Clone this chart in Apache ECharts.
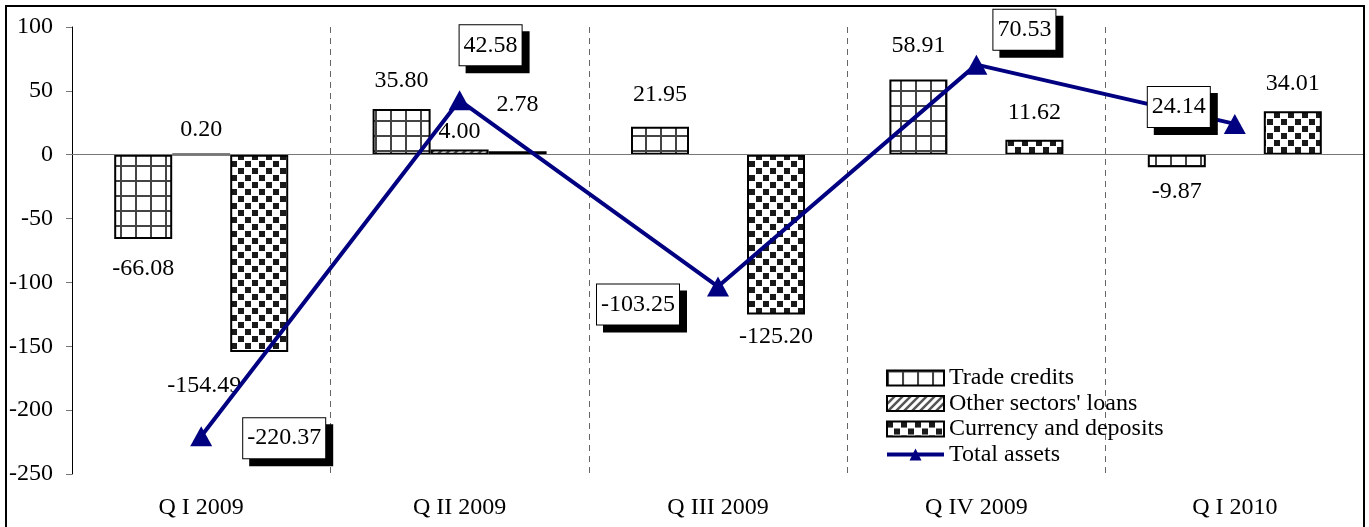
<!DOCTYPE html>
<html>
<head>
<meta charset="utf-8">
<script src="https://cdn.jsdelivr.net/npm/echarts@6/dist/echarts.min.js"></script>
<style>
  html, body { margin: 0; padding: 0; background: #fff; }
  #chart { width: 1369px; height: 527px; }
</style>
</head>
<body>
<div id="chart"></div>
<script>
// data
var categories = ['Q I 2009', 'Q II 2009', 'Q III 2009', 'Q IV 2009', 'Q I 2010']
var tradeCredits = [-66.08, 35.80, 21.95, 58.91, -9.87]
var otherLoans = [0.20, 4.00, 0, 0, 0]
var currencyDeposits = [-154.49, 2.78, -125.20, 11.62, 34.01]
var totalAssets = [-220.37, 42.58, -103.25, 70.53, 24.14]

// label placement (distance from bar end, x shift), kept apart from the values
var tradeLabelPos = [[18, 0], [16, 0], [20, 0], [22, 0], [12, 0]]
var loansLabelPos = [[12, 0], [6, 0], null, null, null]
var currencyLabelPos = [[22, -55], [34, 0], [10, 0], [15, 0], [16, 0]]
var totalLabelOffset = [[83, 2], [31, -55], [-80, 18], [48, -35], [-56, -17]]

var FONT = '"Liberation Serif", "Times New Roman", serif'

function makePattern(kind) {
  var c = document.createElement('canvas')
  var ctx
  if (kind === 'grid') {
    c.width = 15; c.height = 15
    ctx = c.getContext('2d')
    ctx.fillStyle = '#fff'; ctx.fillRect(0, 0, 15, 15)
    ctx.fillStyle = '#444'
    ctx.fillRect(0, 0, 2, 15)
    ctx.fillRect(0, 0, 15, 2)
  } else if (kind === 'hatch') {
    c.width = 8; c.height = 8
    ctx = c.getContext('2d')
    ctx.fillStyle = '#fff'; ctx.fillRect(0, 0, 8, 8)
    ctx.strokeStyle = '#555'; ctx.lineWidth = 2.5
    ctx.beginPath()
    ctx.moveTo(-2, 10); ctx.lineTo(10, -2)
    ctx.moveTo(-2, 2); ctx.lineTo(2, -2)
    ctx.moveTo(6, 10); ctx.lineTo(10, 6)
    ctx.stroke()
  } else {
    c.width = 14; c.height = 14
    ctx = c.getContext('2d')
    ctx.fillStyle = '#fff'; ctx.fillRect(0, 0, 14, 14)
    ctx.fillStyle = '#1a1a1a'
    ctx.fillRect(0, 0, 6, 6)
    ctx.fillRect(7, 7, 6, 6)
  }
  return { image: c, repeat: 'repeat' }
}

function barData(values, pos) {
  return values.map(function (v, i) {
    var p = pos[i]
    if (!p) {
      // zero bars: nothing drawn in the original
      return { value: v, label: { show: false }, itemStyle: { borderWidth: 0, opacity: 0 } }
    }
    return {
      value: v,
      label: {
        show: true,
        position: v >= 0 ? 'top' : 'bottom',
        distance: p[0],
        offset: [p[1], 0]
      }
    }
  })
}

var barLabel = {
  fontFamily: FONT,
  fontSize: 24,
  color: '#000',
  formatter: function (p) { return p.value.toFixed(2) }
}

var chart = echarts.init(document.getElementById('chart'))
chart.setOption({
  animation: false,
  backgroundColor: '#fff',
  textStyle: { fontFamily: FONT },
  grid: { left: 72, right: 5, top: 27, bottom: 53, containLabel: false },
  legend: {
    orient: 'vertical',
    left: 885,
    top: 366,
    padding: 0,
    itemWidth: 57,
    itemHeight: 15,
    itemGap: 1.5,
    textStyle: { fontFamily: FONT, fontSize: 24, color: '#000', lineHeight: 24 },
    data: [
      { name: 'Trade credits', icon: 'rect' },
      { name: "Other sectors' loans", icon: 'rect' },
      { name: 'Currency and deposits', icon: 'rect' },
      { name: 'Total assets', lineStyle: { width: 4 } }
    ]
  },
  xAxis: {
    type: 'category',
    data: categories,
    axisLine: { show: false },
    axisTick: { show: false },
    axisLabel: { margin: 22, fontFamily: FONT, fontSize: 24, color: '#000' },
    splitLine: {
      show: true,
      lineStyle: { color: '#666', width: 1, type: [6, 5] }
    }
  },
  yAxis: {
    type: 'value',
    min: -250,
    max: 100,
    interval: 50,
    axisLine: { show: true, lineStyle: { color: '#000', width: 1 } },
    axisTick: { show: true, length: 6, lineStyle: { color: '#777' } },
    axisLabel: { margin: 19, fontFamily: FONT, fontSize: 24, color: '#000' },
    splitLine: { show: false }
  },
  graphic: [
    {
      type: 'rect',
      silent: true,
      z: 100,
      shape: { x: 6, y: 6, width: 1358, height: 540 },
      style: { fill: 'none', stroke: '#000', lineWidth: 2 }
    }
  ],
  series: [
    {
      name: 'Trade credits',
      type: 'bar',
      barWidth: 58,
      barGap: '0%',
      itemStyle: { color: makePattern('grid'), borderColor: '#000', borderWidth: 2 },
      label: barLabel,
      data: barData(tradeCredits, tradeLabelPos),
      markLine: {
        silent: true,
        symbol: 'none',
        label: { show: false },
        lineStyle: { color: '#777', width: 1, type: 'solid' },
        data: [{ yAxis: 0 }]
      }
    },
    {
      name: "Other sectors' loans",
      type: 'bar',
      barWidth: 58,
      barGap: '0%',
      itemStyle: { color: makePattern('hatch'), borderColor: '#000', borderWidth: 2 },
      label: barLabel,
      data: barData(otherLoans, loansLabelPos)
    },
    {
      name: 'Currency and deposits',
      type: 'bar',
      barWidth: 58,
      barGap: '0%',
      itemStyle: { color: makePattern('checker'), borderColor: '#000', borderWidth: 2 },
      label: barLabel,
      data: barData(currencyDeposits, currencyLabelPos)
    },
    {
      name: 'Total assets',
      type: 'line',
      z: 5,
      symbol: 'triangle',
      symbolSize: [22, 20],
      lineStyle: { color: '#000080', width: 4 },
      itemStyle: { color: '#000080' },
      label: {
        show: true,
        position: 'inside',
        fontFamily: FONT,
        fontSize: 24,
        color: '#000',
        backgroundColor: '#fff',
        borderColor: '#000',
        borderWidth: 1,
        padding: [9, 4, 7, 4],
        shadowColor: '#000',
        shadowBlur: 0,
        shadowOffsetX: 7,
        shadowOffsetY: 7,
        formatter: function (p) { return p.value.toFixed(2) }
      },
      data: totalAssets.map(function (v, i) {
        return { value: v, label: { offset: totalLabelOffset[i] } }
      })
    }
  ]
})
</script>
</body>
</html>
